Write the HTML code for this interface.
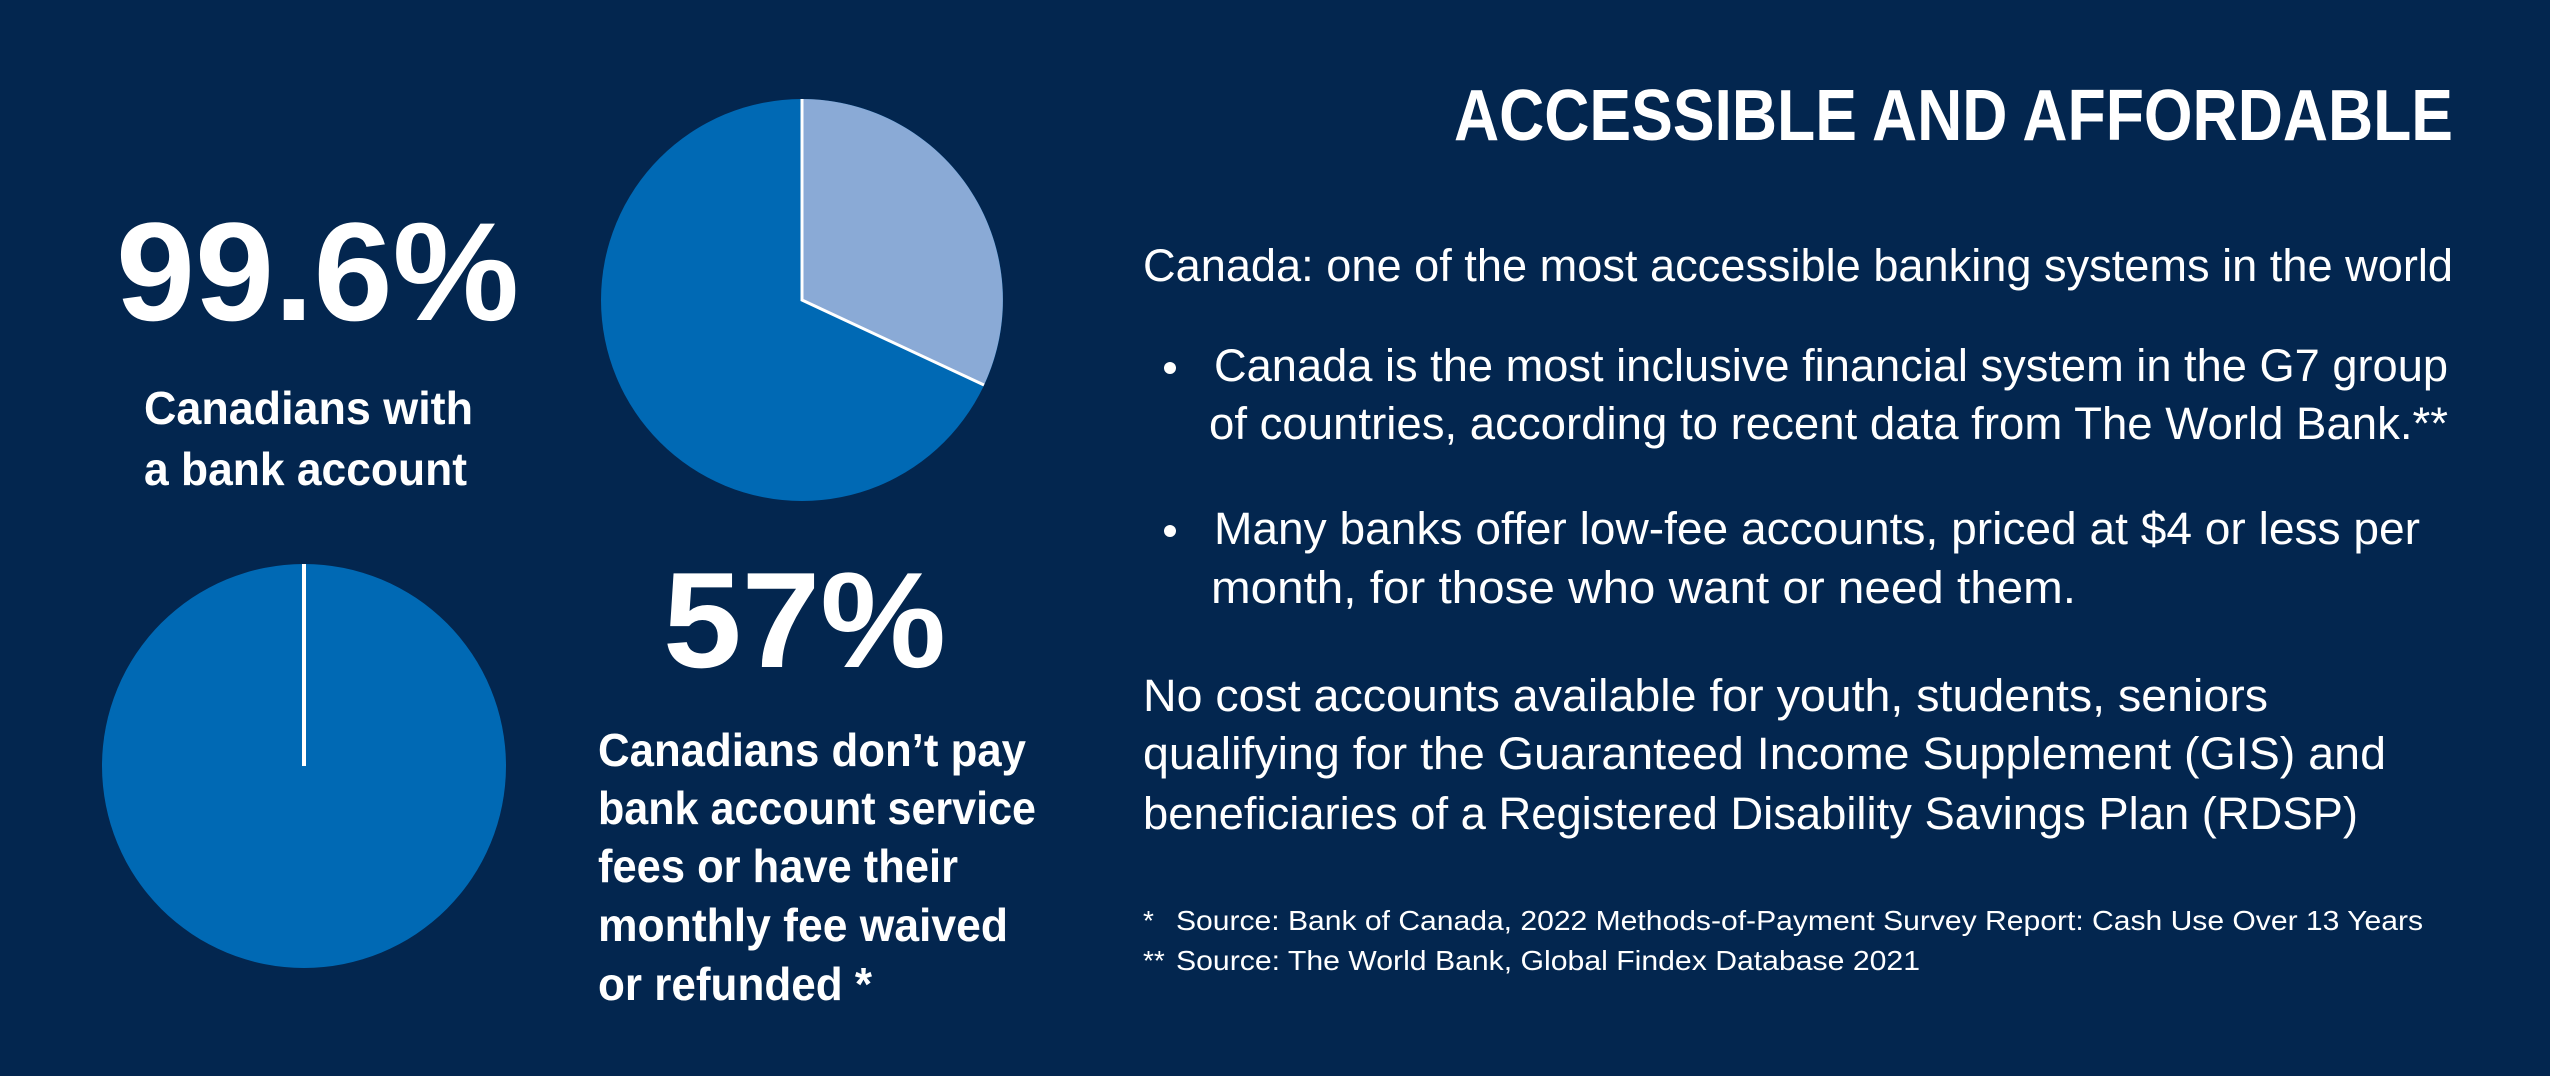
<!DOCTYPE html>
<html><head><meta charset="utf-8"><style>
html,body{margin:0;padding:0;background:#03264f;}
svg{display:block}
text{font-family:"Liberation Sans",sans-serif;fill:#fff}
</style></head><body>
<svg width="2550" height="1076" viewBox="0 0 2550 1076" xmlns="http://www.w3.org/2000/svg">
<rect width="2550" height="1076" fill="#03264f"/>
<circle cx="802" cy="300" r="201" fill="#0069b4"/>
<path d="M802,300 L802,99 A201,201 0 0 1 984,385 Z" fill="#8aaad6"/>
<path d="M802,99 L802,300 L984,385" fill="none" stroke="#fff" stroke-width="3"/>
<circle cx="304" cy="766" r="202" fill="#0069b4"/>
<line x1="304" y1="564" x2="304" y2="766" stroke="#fff" stroke-width="4"/>
<g font-weight="bold">
<text x="116" y="320" font-size="140" textLength="403" lengthAdjust="spacingAndGlyphs">99.6%</text>
<text x="144" y="424" font-size="46" textLength="329" lengthAdjust="spacingAndGlyphs">Canadians with</text>
<text x="144" y="485" font-size="46" textLength="323" lengthAdjust="spacingAndGlyphs">a bank account</text>
<text x="663" y="667" font-size="136" textLength="283" lengthAdjust="spacingAndGlyphs">57%</text>
<text x="598" y="766" font-size="46" textLength="428" lengthAdjust="spacingAndGlyphs">Canadians don’t pay</text>
<text x="598" y="824" font-size="46" textLength="438" lengthAdjust="spacingAndGlyphs">bank account service</text>
<text x="598" y="882" font-size="46" textLength="360" lengthAdjust="spacingAndGlyphs">fees or have their</text>
<text x="598" y="941" font-size="46" textLength="410" lengthAdjust="spacingAndGlyphs">monthly fee waived</text>
<text x="598" y="1000" font-size="46" textLength="274" lengthAdjust="spacingAndGlyphs">or refunded *</text>
<text x="1454" y="140" font-size="72" textLength="999" lengthAdjust="spacingAndGlyphs">ACCESSIBLE AND AFFORDABLE</text>
</g>
<g font-size="45">
<text x="1143" y="281" textLength="1310" lengthAdjust="spacingAndGlyphs">Canada: one of the most accessible banking systems in the world</text>
<circle cx="1170" cy="368" r="6" fill="#fff"/>
<text x="1214" y="381" textLength="1234" lengthAdjust="spacingAndGlyphs">Canada is the most inclusive financial system in the G7 group</text>
<text x="1209" y="439" textLength="1239" lengthAdjust="spacingAndGlyphs">of countries, according to recent data from The World Bank.**</text>
<circle cx="1170" cy="531" r="6" fill="#fff"/>
<text x="1214" y="544" textLength="1206" lengthAdjust="spacingAndGlyphs">Many banks offer low-fee accounts, priced at $4 or less per</text>
<text x="1211" y="603" textLength="865" lengthAdjust="spacingAndGlyphs">month, for those who want or need them.</text>
<text x="1143" y="711" textLength="1125" lengthAdjust="spacingAndGlyphs">No cost accounts available for youth, students, seniors</text>
<text x="1143" y="769" textLength="1243" lengthAdjust="spacingAndGlyphs">qualifying for the Guaranteed Income Supplement (GIS) and</text>
<text x="1143" y="829" textLength="1215" lengthAdjust="spacingAndGlyphs">beneficiaries of a Registered Disability Savings Plan (RDSP)</text>
</g>
<g font-size="28">
<text x="1143" y="930">*</text>
<text x="1176" y="930" textLength="1247" lengthAdjust="spacingAndGlyphs">Source: Bank of Canada, 2022 Methods-of-Payment Survey Report: Cash Use Over 13 Years</text>
<text x="1143" y="970">**</text>
<text x="1176" y="970" textLength="744" lengthAdjust="spacingAndGlyphs">Source: The World Bank, Global Findex Database 2021</text>
</g>
</svg>
</body></html>
